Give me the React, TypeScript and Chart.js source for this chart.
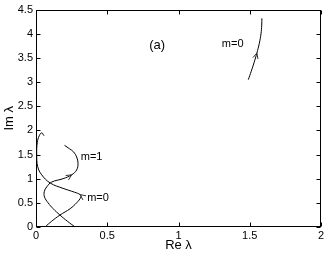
import React, { useEffect, useRef } from "react";
import { Chart, registerables } from "chart.js";
Chart.register(...registerables);

// m=0 branch near origin (from Im=0 upward)
const lowM0Re = [0.063, 0.11, 0.168, 0.24, 0.285, 0.315, 0.31, 0.27, 0.19, 0.1, 0.04, 0.012, 0.005, 0.009, 0.023, 0.04, 0.056];
const lowM0Im = [0.0, 0.12, 0.247, 0.38, 0.5, 0.62, 0.67, 0.72, 0.8, 0.91, 1.08, 1.25, 1.5, 1.75, 1.89, 1.95, 1.89];
// m=1 branch
const m1Re = [0.274, 0.22, 0.168, 0.12, 0.085, 0.06, 0.058, 0.075, 0.11, 0.19, 0.25, 0.285, 0.295, 0.285, 0.265, 0.235, 0.2];
const m1Im = [0.0, 0.12, 0.247, 0.38, 0.5, 0.62, 0.73, 0.83, 0.93, 1.0, 1.08, 1.18, 1.32, 1.45, 1.55, 1.62, 1.69];
// m=0 branch at large Re
const highM0Re = [1.49, 1.51, 1.53, 1.55, 1.567, 1.579, 1.584, 1.585];
const highM0Im = [3.05, 3.22, 3.4, 3.6, 3.8, 4.0, 4.18, 4.32];

// arrow positions: [series index, point index]
const arrows: [number, number][] = [[0, 6], [1, 10], [2, 3]];

const xTicks = [0, 0.5, 1, 1.5, 2];
const yTicks = [0, 0.5, 1, 1.5, 2, 2.5, 3, 3.5, 4, 4.5];

const labels: { text: string; re: number; im: number; size: number }[] = [
  { text: "(a)", re: 0.85, im: 3.76, size: 13 },
  { text: "m=0", re: 1.38, im: 3.78, size: 11 },
  { text: "m=1", re: 0.39, im: 1.44, size: 11 },
  { text: "m=0", re: 0.435, im: 0.6, size: 11 },
];

const FONT = "'Liberation Sans', Arial, Helvetica, sans-serif";

const toPts = (re: number[], im: number[]) => re.map((r, i) => ({ x: r, y: im[i] }));

const decorPlugin = {
  id: "decor",
  afterDatasetsDraw(chart: any) {
    const { ctx, chartArea: a, scales } = chart;
    const x = scales.x, y = scales.y;
    ctx.save();
    ctx.strokeStyle = "#000";
    ctx.lineWidth = 1;
    const L = Math.round(a.left) + 0.5, R = Math.round(a.right) - 0.5;
    const T = Math.round(a.top) + 0.5, B = Math.round(a.bottom) - 0.5;
    ctx.strokeRect(L, T, R - L, B - T);
    const tl = 4;
    ctx.beginPath();
    for (const v of xTicks) {
      const px = Math.round(x.getPixelForValue(v)) + 0.5;
      ctx.moveTo(px, B); ctx.lineTo(px, B - tl);
      ctx.moveTo(px, T); ctx.lineTo(px, T + tl);
    }
    for (const v of yTicks) {
      const py = Math.round(y.getPixelForValue(v)) + 0.5;
      ctx.moveTo(L, py); ctx.lineTo(L + tl, py);
      ctx.moveTo(R, py); ctx.lineTo(R - tl, py);
    }
    ctx.stroke();

    // arrowheads
    ctx.strokeStyle = "#333";
    for (const [si, pi] of arrows) {
      const data = chart.data.datasets[si].data as { x: number; y: number }[];
      const p = data[pi], p0 = data[pi - 1], p1 = data[pi + 1];
      const tx = x.getPixelForValue(p.x), ty = y.getPixelForValue(p.y);
      const dx = x.getPixelForValue(p1.x) - x.getPixelForValue(p0.x);
      const dy = y.getPixelForValue(p1.y) - y.getPixelForValue(p0.y);
      const ang = Math.atan2(dy, dx);
      const len = 6, spread = 0.45;
      ctx.beginPath();
      ctx.moveTo(tx - len * Math.cos(ang - spread), ty - len * Math.sin(ang - spread));
      ctx.lineTo(tx, ty);
      ctx.lineTo(tx - len * Math.cos(ang + spread), ty - len * Math.sin(ang + spread));
      ctx.stroke();
    }

    // text labels
    ctx.fillStyle = "#000";
    ctx.textAlign = "center";
    ctx.textBaseline = "middle";
    for (const l of labels) {
      ctx.font = `${l.size}px ${FONT}`;
      ctx.fillText(l.text, x.getPixelForValue(l.re), y.getPixelForValue(l.im));
    }
    ctx.restore();
  },
};

export default function App() {
  const ref = useRef<HTMLCanvasElement>(null);
  useEffect(() => {
    if (!ref.current) return;
    const lineDs = (data: any) => ({
      data,
      showLine: true,
      borderColor: "#000",
      borderWidth: 1,
      pointRadius: 0,
      tension: 0.4,
      fill: false,
    });
    const chart = new Chart(ref.current, {
      type: "scatter",
      data: {
        datasets: [
          lineDs(toPts(lowM0Re, lowM0Im)),
          lineDs(toPts(m1Re, m1Im)),
          lineDs(toPts(highM0Re, highM0Im)),
        ],
      },
      options: {
        animation: false,
        responsive: true,
        maintainAspectRatio: false,
        layout: { padding: { left: 0, right: 6, top: 8, bottom: 0 } },
        plugins: { legend: { display: false }, tooltip: { enabled: false } },
        scales: {
          x: {
            type: "linear",
            min: 0,
            max: 2,
            afterFit: (s: any) => { s.height = 29; },
            afterBuildTicks: (s: any) => { s.ticks = xTicks.map((v) => ({ value: v })); },
            grid: { display: false, drawTicks: false },
            border: { display: false },
            ticks: { color: "#000", padding: 2, font: { family: FONT, size: 11 }, callback: (v: any) => String(v), maxRotation: 0 },
            title: { display: true, text: "Re λ", color: "#000", font: { family: FONT, size: 13 }, padding: { top: 0, bottom: 3 } },
          },
          y: {
            type: "linear",
            min: 0,
            max: 4.5,
            afterFit: (s: any) => { s.width = 36; },
            afterBuildTicks: (s: any) => { s.ticks = yTicks.map((v) => ({ value: v })); },
            grid: { display: false, drawTicks: false },
            border: { display: false },
            ticks: { color: "#000", padding: 3, font: { family: FONT, size: 11 }, callback: (v: any) => String(v) },
            title: { display: true, text: "Im λ", color: "#000", font: { family: FONT, size: 13 }, padding: { top: 2, bottom: 0 } },
          },
        },
      },
      plugins: [decorPlugin],
    });
    return () => chart.destroy();
  }, []);
  return (
    <div style={{ position: "fixed", left: 0, top: 0, width: 327, height: 256, background: "#fff" }}>
      <canvas ref={ref} />
    </div>
  );
}
